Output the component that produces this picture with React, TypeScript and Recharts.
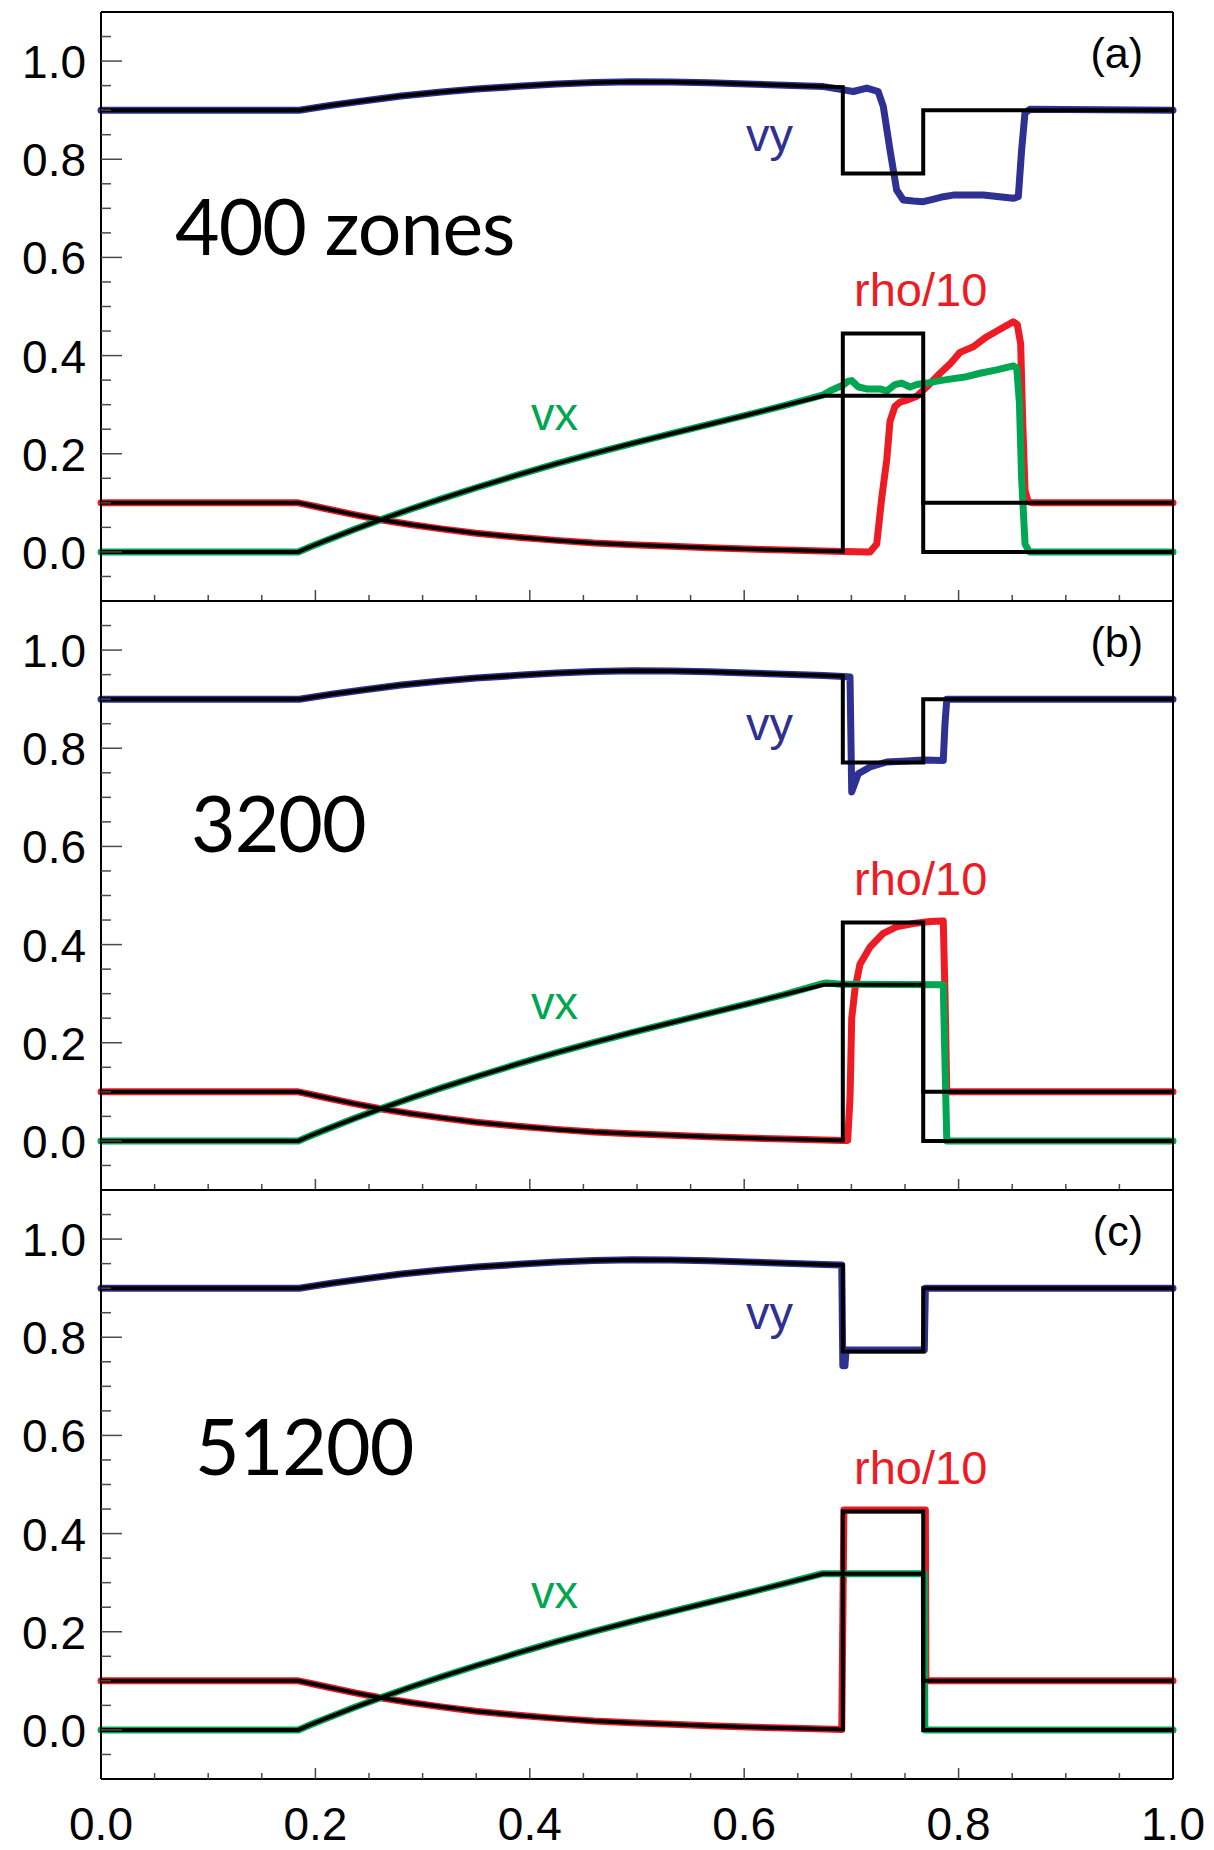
import { LineChart, Line, XAxis, YAxis } from 'recharts'

type Pt = [number, number]

const BLUE = '#2E3192'
const RED = '#ED1C24'
const GREEN = '#00A651'
const TICK = '#4a4a4a'
const LABEL_FONT = '"Liberation Sans", Arial, Helvetica, sans-serif'
const TITLE_FONT = 'Lato, "Open Sans", sans-serif'

const X_TICKS = [0, 0.05, 0.1, 0.15, 0.2, 0.25, 0.3, 0.35, 0.4, 0.45, 0.5, 0.55, 0.6, 0.65, 0.7, 0.75, 0.8, 0.85, 0.9, 0.95, 1]
const Y_TICKS = [-0.05, 0, 0.05, 0.1, 0.15, 0.2, 0.25, 0.3, 0.35, 0.4, 0.45, 0.5, 0.55, 0.6, 0.65, 0.7, 0.75, 0.8, 0.85, 0.9, 0.95, 1, 1.05]

// rarefaction fan, shared by the exact solution and all three runs
const RARE_RHO: Pt[] = [[0, 0.1], [0.184, 0.1], [0.197, 0.094], [0.21, 0.088], [0.236, 0.076], [0.262, 0.065], [0.29, 0.0555], [0.3175, 0.047], [0.35, 0.038], [0.389, 0.03], [0.425, 0.0235], [0.46, 0.018], [0.495, 0.0145], [0.532, 0.0115], [0.567, 0.0085], [0.603, 0.006], [0.638, 0.0038], [0.674, 0.002]]
const RARE_VX: Pt[] = [[0, 0], [0.184, 0], [0.197, 0.012], [0.21, 0.0235], [0.236, 0.0455], [0.262, 0.0665], [0.29, 0.088], [0.3175, 0.108], [0.35, 0.1308], [0.389, 0.157], [0.425, 0.1798], [0.46, 0.2008], [0.495, 0.2208], [0.532, 0.2408], [0.567, 0.2597], [0.603, 0.279], [0.638, 0.2985]]
const RARE_VY: Pt[] = [[0, 0.9], [0.185, 0.9], [0.2, 0.905], [0.215, 0.91], [0.246, 0.919], [0.28, 0.929], [0.3175, 0.937], [0.35, 0.943], [0.389, 0.9485], [0.425, 0.9535], [0.46, 0.9562], [0.496, 0.9578], [0.532, 0.9576], [0.567, 0.9558], [0.603, 0.9535], [0.638, 0.951]]

// exact solution (black)
const EXACT_RHO: Pt[] = [...RARE_RHO, [0.692, 0.001], [0.692, 0.445], [0.767, 0.445], [0.767, 0.1], [1, 0.1]]
const EXACT_VX: Pt[] = [...RARE_VX, [0.674, 0.318], [0.767, 0.318], [0.767, 0], [1, 0]]
const EXACT_VY: Pt[] = [...RARE_VY, [0.674, 0.948], [0.692, 0.947], [0.692, 0.771], [0.767, 0.771], [0.767, 0.9], [1, 0.9]]

// (a) 400 zones
const RHO_A: Pt[] = [...RARE_RHO, [0.692, 0.001], [0.7174, 0], [0.7236, 0.016], [0.7283, 0.11], [0.733, 0.188], [0.736, 0.266], [0.7407, 0.297], [0.7453, 0.305], [0.7516, 0.309], [0.761, 0.317], [0.7702, 0.336], [0.7827, 0.364], [0.792, 0.383], [0.8013, 0.4065], [0.8137, 0.418], [0.826, 0.438], [0.8386, 0.4535], [0.851, 0.469], [0.8548, 0.463], [0.8579, 0.424], [0.8598, 0.266], [0.862, 0.125], [0.865, 0.102], [0.8697, 0.1], [1, 0.1]]
const VX_A: Pt[] = [...RARE_VX, [0.674, 0.32], [0.68, 0.328], [0.6924, 0.34], [0.6971, 0.348], [0.7003, 0.349], [0.7065, 0.336], [0.7142, 0.332], [0.7267, 0.332], [0.733, 0.328], [0.7407, 0.341], [0.7469, 0.344], [0.7547, 0.336], [0.761, 0.341], [0.7702, 0.344], [0.7827, 0.349], [0.795, 0.353], [0.8075, 0.357], [0.82, 0.364], [0.8355, 0.371], [0.851, 0.379], [0.8542, 0.375], [0.8567, 0.305], [0.8588, 0.149], [0.862, 0.016], [0.866, 0], [1, 0]]
const VY_A: Pt[] = [...RARE_VY, [0.674, 0.948], [0.6925, 0.9414], [0.7018, 0.938], [0.7143, 0.945], [0.725, 0.938], [0.7298, 0.907], [0.736, 0.819], [0.7422, 0.7373], [0.7484, 0.717], [0.7578, 0.715], [0.767, 0.7136], [0.776, 0.7184], [0.7858, 0.7237], [0.795, 0.727], [0.823, 0.727], [0.851, 0.7204], [0.8557, 0.7237], [0.8588, 0.819], [0.8619, 0.894], [0.8666, 0.902], [1, 0.9]]

// (b) 3200
const RHO_B: Pt[] = [...RARE_RHO, [0.692, 0.001], [0.6965, 0.001], [0.6987, 0.087], [0.7003, 0.25], [0.7034, 0.31], [0.708, 0.36], [0.7174, 0.395], [0.7298, 0.423], [0.742, 0.436], [0.7578, 0.443], [0.7733, 0.447], [0.7857, 0.448], [0.7873, 0.3], [0.789, 0.1], [1, 0.1]]
const VX_B: Pt[] = [...RARE_VX, [0.674, 0.321], [0.6769, 0.322], [0.69, 0.319], [0.7003, 0.319], [0.7857, 0.318], [0.7873, 0.16], [0.789, 0], [1, 0]]
const VY_B: Pt[] = [...RARE_VY, [0.674, 0.948], [0.6925, 0.946], [0.6987, 0.945], [0.7003, 0.711], [0.7064, 0.748], [0.7174, 0.762], [0.733, 0.772], [0.7516, 0.774], [0.767, 0.776], [0.7857, 0.775], [0.7873, 0.85], [0.789, 0.9], [1, 0.9]]

// (c) 51200
const RHO_C: Pt[] = [...RARE_RHO, [0.691, 0.001], [0.693, 0.448], [0.769, 0.448], [0.7695, 0.1], [1, 0.1]]
const VX_C: Pt[] = [...RARE_VX, [0.672, 0.318], [0.768, 0.318], [0.7685, 0], [1, 0]]
const VY_C: Pt[] = [...RARE_VY, [0.674, 0.948], [0.691, 0.947], [0.692, 0.742], [0.694, 0.742], [0.695, 0.774], [0.768, 0.774], [0.769, 0.9], [1, 0.9]]

const rows = (pts: Pt[]) => pts.map(([x, y]) => ({ x, y }))
const isMajor = (v: number) => Math.abs(v * 5 - Math.round(v * 5)) < 1e-6
const isEdge = (v: number) => Math.abs(v) < 1e-6 || Math.abs(v - 1) < 1e-6

function leftTick(props: any) {
  const { x, y, payload } = props
  const v = payload.value
  const major = isMajor(v)
  return (
    <g>
      <line x1={x} x2={x + (major ? 21 : 10)} y1={y} y2={y} stroke={TICK} strokeWidth={1.5} />
      {major && (
        <text x={x - 15} y={y + 17} textAnchor="end" fontSize={46} fontFamily={LABEL_FONT} fill="#000">
          {v.toFixed(1)}
        </text>
      )}
    </g>
  )
}

function rightTick(props: any) {
  const { x, y, payload } = props
  const major = isMajor(payload.value)
  return <line x1={x} x2={x - (major ? 21 : 10)} y1={y} y2={y} stroke={TICK} strokeWidth={1.5} />
}

function topTick(props: any) {
  const { x, y, payload } = props
  if (isEdge(payload.value)) return <g />
  const major = isMajor(payload.value)
  return <line x1={x} x2={x} y1={y} y2={y + (major ? 11 : 6)} stroke={TICK} strokeWidth={1.5} />
}

function makeBottomTick(withLabels: boolean) {
  return (props: any) => {
    const { x, y, payload } = props
    const v = payload.value
    const major = isMajor(v)
    return (
      <g>
        {!isEdge(v) && <line x1={x} x2={x} y1={y} y2={y - (major ? 11 : 6)} stroke={TICK} strokeWidth={1.5} />}
        {withLabels && major && (
          <text x={x} y={y + 61} textAnchor="middle" fontSize={46} fontFamily={LABEL_FONT} fill="#000">
            {v.toFixed(1)}
          </text>
        )}
      </g>
    )
  }
}

const PANELS = [
  { key: 'a', top: 0, plotTop: 12, topH: 12, bottomH: 1, rho: RHO_A, vx: VX_A, vy: VY_A, title: '400 zones', titleX: 175, titleDy: 243 },
  { key: 'b', top: 600, plotTop: 601, topH: 1, bottomH: 1, rho: RHO_B, vx: VX_B, vy: VY_B, title: '3200', titleX: 191, titleDy: 251 },
  { key: 'c', top: 1189, plotTop: 1190, topH: 1, bottomH: 71, rho: RHO_C, vx: VX_C, vy: VY_C, title: '51200', titleX: 195, titleDy: 285 },
]

const PLOT_H = 589
const AXIS_LINE = { stroke: '#000', strokeWidth: 2 }

function Panel({ p, last }: { p: (typeof PANELS)[number]; last: boolean }) {
  const height = p.topH + PLOT_H + p.bottomH
  const common = { dataKey: 'y', xAxisId: 'bottom', yAxisId: 'left', dot: false, isAnimationActive: false, type: 'linear' as const }
  return (
    <div style={{ position: 'absolute', left: 0, top: p.top }}>
      <LineChart width={1214} height={height} margin={{ top: 0, right: 0, bottom: 0, left: 0 }}>
        <XAxis xAxisId="top" orientation="top" type="number" dataKey="x" domain={[0, 1]} ticks={X_TICKS} interval={0}
          height={p.topH} tickSize={0} tickMargin={0} tickLine={false} axisLine={AXIS_LINE} tick={topTick} />
        <XAxis xAxisId="bottom" orientation="bottom" type="number" dataKey="x" domain={[0, 1]} ticks={X_TICKS} interval={0}
          height={p.bottomH} tickSize={0} tickMargin={0} tickLine={false} axisLine={AXIS_LINE} tick={makeBottomTick(last)} />
        <YAxis yAxisId="left" orientation="left" type="number" domain={[-0.1, 1.1]} ticks={Y_TICKS} interval={0}
          width={101} tickSize={0} tickMargin={0} tickLine={false} axisLine={AXIS_LINE} tick={leftTick} />
        <YAxis yAxisId="right" orientation="right" type="number" domain={[-0.1, 1.1]} ticks={Y_TICKS} interval={0}
          width={41} tickSize={0} tickMargin={0} tickLine={false} axisLine={AXIS_LINE} tick={rightTick} />
        <Line {...common} data={rows(p.vy)} stroke={BLUE} strokeWidth={7} strokeLinejoin="round" strokeLinecap="round" />
        <Line {...common} data={rows(p.rho)} stroke={RED} strokeWidth={7} strokeLinejoin="round" strokeLinecap="round" />
        <Line {...common} data={rows(p.vx)} stroke={GREEN} strokeWidth={7} strokeLinejoin="round" strokeLinecap="round" />
        <Line {...common} data={rows(EXACT_VY)} stroke="#000" strokeWidth={4} />
        <Line {...common} data={rows(EXACT_RHO)} stroke="#000" strokeWidth={4} />
        <Line {...common} data={rows(EXACT_VX)} stroke="#000" strokeWidth={4} />
      </LineChart>
    </div>
  )
}

export default function App() {
  return (
    <div style={{ position: 'absolute', left: 0, top: 0, width: 1214, height: 1850, background: '#fff' }}>
      {PANELS.map((p, i) => (
        <Panel key={p.key} p={p} last={i === PANELS.length - 1} />
      ))}
      <svg width={1214} height={1850} style={{ position: 'absolute', left: 0, top: 0, pointerEvents: 'none' }}>
        {PANELS.map(p => (
          <g key={p.key}>
            <text x={p.titleX} y={p.plotTop + p.titleDy} fontSize={77} letterSpacing={-1} fontFamily={TITLE_FONT} fill="#000">{p.title}</text>
            <text x={1143} y={p.plotTop + 56} textAnchor="end" fontSize={43} fontFamily={LABEL_FONT} fill="#000">({p.key})</text>
            <text x={746} y={p.plotTop + 139} fontSize={47} fontFamily={LABEL_FONT} fill={BLUE}>vy</text>
            <text x={854} y={p.plotTop + 294} fontSize={47} fontFamily={LABEL_FONT} fill={RED}>rho/10</text>
            <text x={531} y={p.plotTop + 418} fontSize={47} fontFamily={LABEL_FONT} fill={GREEN}>vx</text>
          </g>
        ))}
      </svg>
    </div>
  )
}
